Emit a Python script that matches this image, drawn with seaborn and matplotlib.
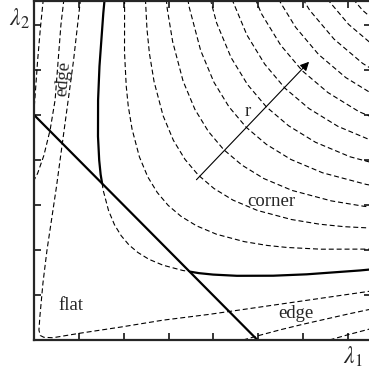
import matplotlib
matplotlib.use("Agg")
import matplotlib.pyplot as plt
import numpy as np
import pandas as pd
import seaborn as sns

sns.set_style("ticks")
plt.rcParams["font.family"] = ["Liberation Serif", "DejaVu Serif"]
plt.rcParams["mathtext.fontset"] = "stix"

# Equi-response contours of the corner measure in (lambda1, lambda2) space.
# Positive levels (corner side), listed point by point along each curve.
c2_l1 = [2.063, 2.019, 2.017, 2.055, 2.100, 2.185, 2.349, 2.536, 2.748, 2.990,
         3.275, 3.622, 4.067, 4.685, 5.199, 5.644, 6.395, 7.536, 8.597]
c2_l2 = [8.597, 7.536, 6.395, 5.644, 5.199, 4.685, 4.067, 3.622, 3.275, 2.990,
         2.748, 2.536, 2.349, 2.185, 2.100, 2.055, 2.017, 2.019, 2.063]
c3_l1 = [2.470, 2.517, 2.572, 2.676, 2.877, 3.106, 3.365, 3.662,
         4.011, 4.436, 4.981, 5.738, 6.367, 6.913, 7.833]
c3_l2 = [7.833, 6.913, 6.367, 5.738, 4.981, 4.436, 4.011, 3.662,
         3.365, 3.106, 2.877, 2.676, 2.572, 2.517, 2.470]
c4_l1 = [2.906, 2.970, 3.090, 3.322, 3.586, 3.886, 4.228,
         4.632, 5.122, 5.752, 6.626, 7.352, 7.982]
c4_l2 = [7.982, 7.352, 6.626, 5.752, 5.122, 4.632, 4.228,
         3.886, 3.586, 3.322, 3.090, 2.970, 2.906]
c5_l1 = [3.321, 3.455, 3.714, 4.009, 4.345, 4.727, 5.179, 5.727, 6.431, 7.408, 8.220]
c5_l2 = [8.220, 7.408, 6.431, 5.727, 5.179, 4.727, 4.345, 4.009, 3.714, 3.455, 3.321]
c6_l1 = [3.784, 4.069, 4.392, 4.759, 5.178, 5.673, 6.273, 7.045, 8.115]
c6_l2 = [8.115, 7.045, 6.273, 5.673, 5.178, 4.759, 4.392, 4.069, 3.784]
c7_l1 = [4.395, 4.744, 5.141, 5.593, 6.128, 6.776, 7.609]
c7_l2 = [7.609, 6.776, 6.128, 5.593, 5.141, 4.744, 4.395]
c8_l1 = [4.698, 5.071, 5.496, 5.979, 6.551, 7.244, 8.135]
c8_l2 = [8.135, 7.244, 6.551, 5.979, 5.496, 5.071, 4.698]
c9_l1 = [5.379, 5.829, 6.342, 6.948, 7.683]
c9_l2 = [7.683, 6.948, 6.342, 5.829, 5.379]
c10_l1 = [5.670, 6.144, 6.685, 7.324, 8.099]
c10_l2 = [8.099, 7.324, 6.685, 6.144, 5.670]
c11_l1 = [6.444, 7.011, 7.681]
c11_l2 = [7.681, 7.011, 6.444]
c12_l1 = [6.731, 7.323, 8.023]
c12_l2 = [8.023, 7.323, 6.731]

# Threshold contour: inner (flat-side) stretch is dashed
c1_mid_l1 = [1.517, 1.545, 1.661, 1.793, 1.943, 2.114, 2.316, 2.561, 2.876, 3.313, 3.483]
c1_mid_l2 = [3.483, 3.313, 2.876, 2.561, 2.316, 2.114, 1.943, 1.793, 1.661, 1.545, 1.517]

# Zero-response contour hugging both axes
c0_l1 = [1.04, 0.88, 0.50, 0.29, 0.20, 0.13, 0.11, 0.14, 0.22, 0.42, 1.02, 1.95, 2.87, 3.91, 7.60]
c0_l2 = [7.60, 6.20, 3.40, 2.00, 1.27, 0.51, 0.22, 0.10, 0.06, 0.05, 0.15, 0.29, 0.44, 0.57, 1.10]

# Negative levels (edge side)
e1b_l1 = [4.66, 5.0, 5.5, 6.0, 7.0, 7.6]
e1b_l2 = [0.0, 0.097, 0.230, 0.351, 0.577, 0.705]
e2b_l1 = [6.585, 7.0, 7.6]
e2b_l2 = [0.0, 0.118, 0.275]
e1l_l1 = [0.67, 0.60, 0.47, 0.36, 0.22, 0.08, 0.0]
e1l_l2 = [7.60, 7.00, 5.33, 4.67, 4.10, 3.70, 3.55]
e2l_l1 = [0.21, 0.14, 0.08, 0.03, 0.0]
e2l_l2 = [7.60, 6.90, 6.20, 5.50, 5.10]

# Heavy classification boundaries
flat_l1 = [0.0, 4.98]
flat_l2 = [5.0, 0.0]
corner_top_l1 = [1.67, 1.545, 1.459, 1.428, 1.426, 1.453, 1.485, 1.517]
corner_top_l2 = [8.59, 7.267, 6.079, 5.329, 4.522, 3.991, 3.676, 3.483]
corner_right_l1 = [3.483, 3.676, 3.991, 4.522, 5.329, 6.079, 7.267, 8.59]
corner_right_l2 = [1.517, 1.485, 1.453, 1.426, 1.428, 1.459, 1.545, 1.67]

# Direction of increasing response
arrow_start = (3.62, 3.56)
arrow_end = (6.13, 6.18)

dashed_curves = {
    "c0": (c0_l1, c0_l2), "c1": (c1_mid_l1, c1_mid_l2),
    "c2": (c2_l1, c2_l2), "c3": (c3_l1, c3_l2), "c4": (c4_l1, c4_l2),
    "c5": (c5_l1, c5_l2), "c6": (c6_l1, c6_l2), "c7": (c7_l1, c7_l2),
    "c8": (c8_l1, c8_l2), "c9": (c9_l1, c9_l2), "c10": (c10_l1, c10_l2),
    "c11": (c11_l1, c11_l2), "c12": (c12_l1, c12_l2),
    "e1b": (e1b_l1, e1b_l2), "e2b": (e2b_l1, e2b_l2),
    "e1l": (e1l_l1, e1l_l2), "e2l": (e2l_l1, e2l_l2),
}
solid_curves = {
    "flat": (flat_l1, flat_l2),
    "corner_top": (corner_top_l1, corner_top_l2),
    "corner_right": (corner_right_l1, corner_right_l2),
}


def to_frame(curves):
    rows = []
    for name, (xs, ys) in curves.items():
        for i, (a, b) in enumerate(zip(xs, ys)):
            rows.append({"curve": name, "order": i, "lam1": a, "lam2": b})
    return pd.DataFrame(rows)


df_dash = to_frame(dashed_curves)
df_solid = to_frame(solid_curves)

fig = plt.figure(figsize=(3.69, 3.76), dpi=100)
ax = fig.add_axes([34 / 369, 36 / 376, 337 / 369, 339 / 376])

sns.lineplot(data=df_dash, x="lam1", y="lam2", units="curve", estimator=None,
             sort=False, color="black", linewidth=0.8,
             linestyle=(0, (4.5, 2.6)), ax=ax, legend=False)
sns.lineplot(data=df_solid, x="lam1", y="lam2", units="curve", estimator=None,
             sort=False, color="black", linewidth=1.6, ax=ax, legend=False)

ax.annotate("", xy=arrow_end, xytext=arrow_start,
            arrowprops=dict(arrowstyle="-|>", color="black", lw=0.8,
                            mutation_scale=13, shrinkA=0, shrinkB=0))

ax.set_xlim(0, 7.51)
ax.set_ylim(0, 7.53)
ax.set_xticks(range(0, 8))
ax.set_yticks(range(0, 8))
ax.set_xticklabels([])
ax.set_yticklabels([])
ax.set_xlabel("")
ax.set_ylabel("")
ax.tick_params(direction="in", top=True, right=True, length=5, width=1.3)
for sp in ax.spines.values():
    sp.set_visible(True)
    sp.set_linewidth(1.6)

fs = 13.5
ax.text(-0.33, 7.14, r"$\lambda_2$", fontsize=17, ha="center", va="center", clip_on=False)
ax.text(7.11, -0.38, r"$\lambda_1$", fontsize=17, ha="center", va="center", clip_on=False)
ax.text(0.66, 5.8, "edge", fontsize=fs, rotation=85, ha="center", va="center")
ax.text(0.82, 0.76, "flat", fontsize=fs, ha="center", va="center")
ax.text(5.29, 3.07, "corner", fontsize=fs, ha="center", va="center")
ax.text(5.84, 0.58, "edge", fontsize=fs, ha="center", va="center")
ax.text(4.76, 5.07, "r", fontsize=fs, ha="center", va="center")

fig.savefig("out.png", dpi=100)
